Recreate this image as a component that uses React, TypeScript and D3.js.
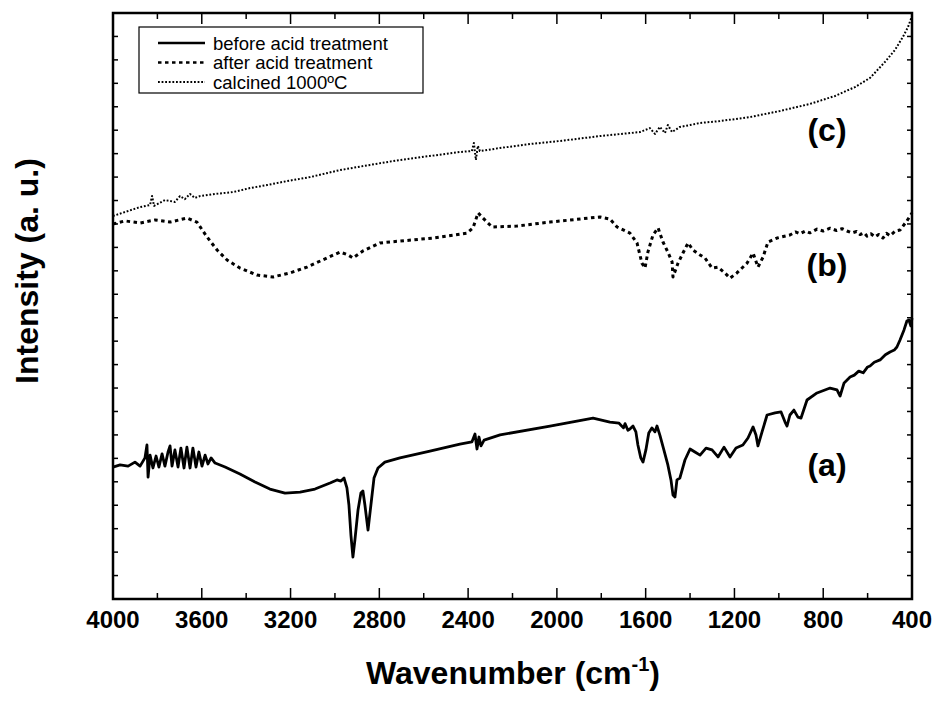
import React from "react";
import * as d3 from "d3";

// Wavenumber (cm-1) / intensity (a.u.) pairs
const waveA = [4000,3968,3932,3901,3878,3856,3847,3842,3833,3820,3806,3793,3779,3766,3752,3743,3734,3721,3707,3694,3680,3667,3653,3640,3626,3613,3599,3585,3572,3558,3540,3495,3428,3360,3293,3225,3157,3090,3022,2991,2973,2959,2946,2937,2928,2919,2910,2896,2883,2874,2865,2851,2838,2824,2806,2775,2707,2572,2437,2383,2369,2360,2351,2342,2328,2256,2031,1837,1761,1720,1700,1693,1680,1671,1657,1644,1635,1622,1612,1599,1586,1572,1558,1549,1536,1518,1500,1486,1477,1468,1459,1446,1423,1400,1378,1355,1328,1301,1274,1247,1220,1193,1162,1139,1116,1103,1094,1076,1053,1017,990,972,963,950,932,914,900,873,828,769,738,724,706,679,660,640,620,600,589,570,544,520,499,480,468,454,436,423,414,405,400];
const intA = [5.63,5.72,5.67,5.84,5.67,6.02,6.57,5.2,6.14,5.59,6.1,5.63,6.19,5.67,6.27,6.53,5.67,6.36,5.63,6.44,5.59,6.48,5.59,6.44,5.63,6.27,5.67,6.14,5.76,6.02,5.8,5.63,5.33,4.99,4.69,4.52,4.56,4.69,4.95,5.08,5.03,5.16,4.74,4.01,2.73,1.79,2.52,3.8,4.52,4.61,4.01,2.94,4.01,5.16,5.59,5.84,6.02,6.31,6.61,6.7,7.04,6.4,6.91,6.53,6.78,7.0,7.38,7.72,7.55,7.5,7.3,7.48,7.2,7.25,7.38,7.13,6.57,6.02,5.84,6.36,7.08,7.3,7.13,7.38,6.99,6.36,5.72,5.08,4.44,4.35,5.08,5.16,5.93,6.4,6.27,6.14,6.44,6.36,6.06,6.48,6.06,6.44,6.57,6.87,7.34,7.0,6.53,7.12,7.85,7.94,7.98,7.55,7.38,7.85,8.06,7.76,7.72,8.49,8.79,9.0,8.92,8.66,9.22,9.47,9.55,9.72,9.65,9.9,9.94,10.1,10.2,10.42,10.54,10.62,10.75,11.05,11.48,11.86,11.9,11.65,11.99];

const waveB = [4000,3946,3878,3811,3743,3667,3622,3576,3531,3486,3428,3351,3279,3203,3126,3036,2977,2941,2919,2874,2797,2707,2558,2405,2378,2355,2333,2292,2180,2031,1806,1761,1729,1671,1639,1617,1603,1590,1567,1544,1522,1500,1481,1477,1454,1432,1409,1387,1355,1333,1301,1274,1243,1220,1189,1143,1116,1094,1071,1049,1008,950,925,905,880,860,828,800,769,740,715,693,670,650,634,615,603,585,567,550,531,515,499,475,454,423,400];
const intB = [16.0,16.13,16.04,16.17,16.08,16.25,16.08,15.44,14.89,14.46,14.12,13.82,13.74,13.91,14.16,14.55,14.8,14.68,14.55,14.85,15.19,15.27,15.4,15.61,15.83,16.47,16.25,15.87,15.91,16.08,16.3,16.21,15.87,15.61,15.19,14.33,14.12,14.8,15.53,15.83,15.23,14.8,14.38,13.74,14.33,14.76,15.19,14.89,14.68,14.55,14.12,14.16,13.91,13.69,13.91,14.33,14.76,14.16,14.59,15.23,15.4,15.53,15.66,15.58,15.7,15.62,15.78,15.7,15.82,15.72,15.8,15.7,15.62,15.68,15.55,15.62,15.48,15.58,15.45,15.55,15.4,15.6,15.5,15.7,15.74,16.13,16.47];

const waveC = [4000,3946,3878,3833,3824,3815,3766,3721,3698,3676,3653,3631,3608,3540,3459,3383,3306,3216,3112,2977,2842,2707,2572,2437,2383,2374,2365,2356,2347,2256,2121,1986,1806,1626,1581,1558,1536,1513,1500,1481,1446,1400,1355,1265,1130,995,860,747,657,589,522,477,441,418,400];
const intC = [16.34,16.51,16.72,16.81,17.19,16.77,17.02,16.94,17.19,17.06,17.28,17.11,17.19,17.28,17.36,17.53,17.66,17.83,18.0,18.3,18.52,18.73,18.9,19.07,19.11,19.45,18.73,19.33,19.11,19.24,19.41,19.54,19.75,19.92,20.09,19.84,20.14,19.88,20.22,19.92,20.14,20.22,20.31,20.39,20.56,20.82,21.12,21.46,21.84,22.23,22.91,23.42,23.98,24.4,24.87];

const seriesNames = ["before acid treatment", "after acid treatment", "calcined 1000ºC"];
const curveLabels = ["(a)", "(b)", "(c)"];
const xTicks = [4000, 3600, 3200, 2800, 2400, 2000, 1600, 1200, 800, 400];

const W = 939, H = 704;
const M = { left: 113, right: 912, top: 13, bottom: 599 };

export default function App() {
  const x = d3.scaleLinear().domain([4000, 400]).range([M.left, M.right]);
  const y = d3.scaleLinear().domain([0, 25]).range([M.bottom, M.top]);
  const line = d3.line<[number, number]>().x(d => x(d[0])).y(d => y(d[1])).curve(d3.curveLinear);
  const pts = (w: number[], v: number[]) => w.map((d, i) => [d, v[i]] as [number, number]);
  const series = [
    { d: line(pts(waveA, intA)), dash: undefined, width: 2.8, labelY: 5.72 },
    { d: line(pts(waveB, intB)), dash: "3.5 3.5", width: 3, labelY: 14.25 },
    { d: line(pts(waveC, intC)), dash: "1.8 1.8", width: 2, labelY: 20.0 },
  ];
  const minor = d3.range(4000, 399, -200);
  const yTicks = d3.range(0, 26, 1);
  const tickFont = "'Liberation Sans Narrow','Arial Narrow','Liberation Sans',Arial,sans-serif";
  const sans = "'Liberation Sans',Arial,sans-serif";
  const rowY = (i: number) => 43 + i * 19.5;
  return (
    <svg width={W} height={H} style={{ position: "absolute", left: 0, top: 0, background: "#fff" }}>
      <rect x={0} y={0} width={W} height={H} fill="#fff" />
      {series.map((s, i) => (
        <path key={i} d={s.d || ""} fill="none" stroke="#000" strokeWidth={s.width}
          strokeDasharray={s.dash} strokeLinejoin="round" />
      ))}
      {/* frame */}
      <rect x={M.left} y={M.top} width={M.right - M.left} height={M.bottom - M.top} fill="none" stroke="#000" strokeWidth={2.5} />
      {minor.map(t => {
        const major = t % 400 === 0;
        const len = major ? 11 : 6;
        return (
          <g key={t}>
            <line x1={x(t)} x2={x(t)} y1={M.bottom} y2={M.bottom - len} stroke="#000" strokeWidth={1.5} />
            <line x1={x(t)} x2={x(t)} y1={M.top} y2={M.top + len} stroke="#000" strokeWidth={1.5} />
          </g>
        );
      })}
      {yTicks.map(t => (
        <g key={t}>
          <line x1={M.left} x2={M.left + 5} y1={y(t)} y2={y(t)} stroke="#000" strokeWidth={1.5} />
          <line x1={M.right} x2={M.right - 5} y1={y(t)} y2={y(t)} stroke="#000" strokeWidth={1.5} />
        </g>
      ))}
      {xTicks.map(t => (
        <text key={t} x={x(t)} y={628} textAnchor="middle" fontFamily={tickFont} fontWeight="bold" fontSize={24}>{t}</text>
      ))}
      <text x={513} y={684} textAnchor="middle" fontFamily={sans} fontWeight="bold" fontSize={32}>
        Wavenumber (cm<tspan dy={-13} fontSize={20}>-1</tspan><tspan dy={13}>)</tspan>
      </text>
      <text transform={`translate(38,271) rotate(-90)`} textAnchor="middle" fontFamily={sans} fontWeight="bold" fontSize={32}>
        Intensity (a. u.)
      </text>
      {series.map((s, i) => (
        <text key={i} x={827} y={y(s.labelY)} textAnchor="middle" dominantBaseline="central" fontFamily={sans} fontWeight="bold" fontSize={32}>{curveLabels[i]}</text>
      ))}
      {/* legend */}
      <rect x={139} y={27} width={284} height={66} fill="#fff" stroke="#000" strokeWidth={1.2} />
      {seriesNames.map((n, i) => (
        <g key={n}>
          <line x1={158} x2={205} y1={rowY(i)} y2={rowY(i)} stroke="#000" strokeWidth={series[i].width * 0.9}
            strokeDasharray={series[i].dash} />
          <text x={213} y={rowY(i)} dominantBaseline="central" fontFamily={sans} fontSize={18.5}>{n}</text>
        </g>
      ))}
    </svg>
  );
}
